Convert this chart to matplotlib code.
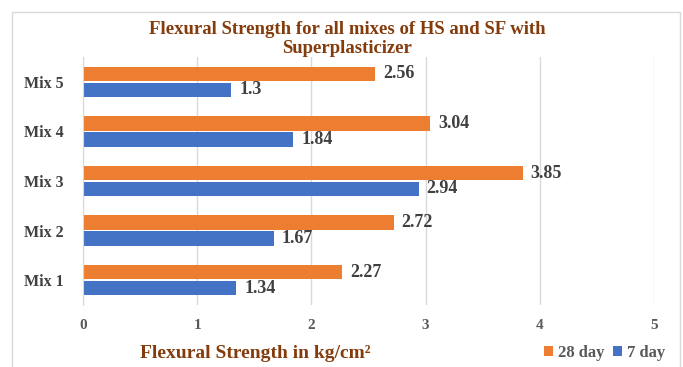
import matplotlib
matplotlib.use('Agg')
import matplotlib.pyplot as plt
import numpy as np
from matplotlib.patches import Rectangle

# data
mixes = ['Mix 1', 'Mix 2', 'Mix 3', 'Mix 4', 'Mix 5']
day28 = [2.27, 2.72, 3.85, 3.04, 2.56]
day7 = [1.34, 1.67, 2.94, 1.84, 1.3]

orange = '#ED7D31'
blue = '#4472C4'
brown = '#843C0C'
gray = '#595959'

plt.rcParams['font.family'] = ['Liberation Serif', 'DejaVu Serif']
plt.rcParams['font.weight'] = 'bold'

fig = plt.figure(figsize=(6.83, 3.67), dpi=100)
# outer chart border
fig.patches.append(Rectangle((12 / 683, -0.01), 668 / 683, 1 - 12 / 367 + 0.01,
                             transform=fig.transFigure, fill=False,
                             edgecolor='#D9D9D9', lw=1))

ax = fig.add_axes([83 / 683, 1 - 305 / 367, 571 / 683, 248 / 367])

y = np.arange(len(mixes))
h = 0.29
b1 = ax.barh(y + 0.16, day28, height=h, color=orange, label='28 day')
b2 = ax.barh(y - 0.16, day7, height=h, color=blue, label='7 day')

for bars, vals in [(b1, day28), (b2, day7)]:
    for bar, v in zip(bars, vals):
        ax.text(v + 0.07, bar.get_y() + bar.get_height() / 2, str(v),
                va='center', ha='left', fontsize=13, fontweight='bold', color='#404040')

ax.set_xlim(0, 5)
ax.set_ylim(-0.5, 4.5)
ax.set_yticks(y)
ax.set_yticklabels(mixes, fontsize=11.5, fontweight='bold', color='#404040')
ax.set_xticks(range(6))
ax.set_xticklabels([str(i) for i in range(6)], fontsize=11, fontweight='bold', color=gray)
ax.tick_params(axis='both', length=0)
ax.tick_params(axis='x', pad=10)
ax.tick_params(axis='y', pad=14)
ax.grid(axis='x', color='#D9D9D9', lw=1)
ax.set_axisbelow(True)
for s in ['top', 'right', 'bottom']:
    ax.spines[s].set_visible(False)
ax.spines['left'].set_color('#D9D9D9')

fig.text(347 / 683, 1 - 39 / 367, 'Flexural Strength for all mixes of HS and SF with\nSuperplasticizer',
         ha='center', va='center', fontsize=13.5, fontweight='bold', color=brown, linespacing=1.15)
fig.text(255 / 683, 1 - 353 / 367, 'Flexural Strength in kg/cm²',
         ha='center', va='center', fontsize=14, fontweight='bold', color=brown)

handles, labels = ax.get_legend_handles_labels()
fig.legend(handles, labels, loc='center right', bbox_to_anchor=(680 / 683, 1 - 353 / 367),
           ncol=2, frameon=False, handlelength=0.55, handleheight=0.55, handletextpad=0.3,
           columnspacing=0.5, prop={'family': 'Liberation Serif', 'weight': 'bold', 'size': 12},
           labelcolor=gray)

fig.savefig('out.png', dpi=100)
